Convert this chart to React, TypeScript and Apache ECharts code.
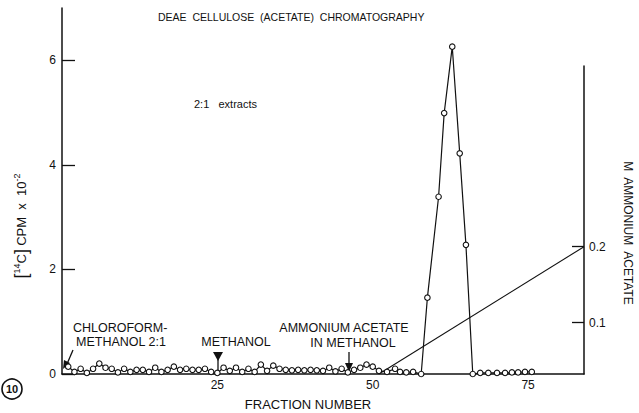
import React, { useEffect, useRef } from "react";
import * as echarts from "echarts";

// Fraction numbers and [14C] counts (CPM x 10^-2) for the DEAE cellulose run
const fractionNumbers = [
  1, 2, 3, 4, 5, 6, 7, 8, 9, 10,
  11, 12, 13, 14, 15, 16, 17, 18, 19, 20,
  21, 22, 23, 24, 25, 26, 27, 28, 29, 30,
  31, 32, 33, 34, 35, 36, 37, 38, 39, 40,
  41, 42, 43, 44, 45, 46, 47, 48, 49, 50,
  51, 52.3, 53.6, 54.4, 55.4, 56.5,
  57.8, 58.8, 60.6, 61.5, 62.8, 64.0, 65.0, 66.1,
  67.3, 68.6, 70.0, 71.3, 72.4, 73.4, 74.5, 75.6,
];
const cpmValues = [
  0.14, 0.04, 0.1, 0.02, 0.1, 0.2, 0.12, 0.1, 0.03, 0.1,
  0.04, 0.08, 0.08, 0.04, 0.12, 0.04, 0.08, 0.14, 0.08, 0.1,
  0.08, 0.08, 0.1, 0.04, 0.02, 0.12, 0.06, 0.12, 0.04, 0.1,
  0.04, 0.18, 0.06, 0.16, 0.1, 0.08, 0.07, 0.08, 0.07, 0.08,
  0.07, 0.06, 0.12, 0.05, 0.1, 0.03, 0.08, 0.12, 0.18, 0.14,
  0.06, 0.04, 0.1, 0.04, 0.03, 0.04,
  0.0, 1.46, 3.39, 4.99, 6.26, 4.22, 2.47, 0.0,
  0.02, 0.02, 0.02, 0.02, 0.03, 0.03, 0.04, 0.04,
];

// Ammonium acetate gradient (M), drawn against the right-hand axis
const gradientFractions = [51, 84];
const gradientMolarity = [0.0325, 0.2];

// Axis ticks
const fractionTicks = [25, 50, 75];
const cpmTicks = [0, 2, 4, 6];
const molarityTicks = [0.1, 0.2];

const FONT = "'Liberation Sans', Arial, Helvetica, sans-serif";
const INK = "#111";

export default function App() {
  const ref = useRef<HTMLDivElement>(null);

  useEffect(() => {
    if (!ref.current) return;
    const chart = echarts.init(ref.current, undefined, { renderer: "svg" });

    const countData = fractionNumbers.map((f, i) => [f, cpmValues[i]]);
    const gradientData = gradientFractions.map((f, i) => [f, gradientMolarity[i]]);

    const axisLine = { show: true, onZero: false, lineStyle: { color: INK, width: 1.5 } };
    const label = { color: INK, fontSize: 12, fontFamily: FONT };

    const text = (x: number, y: number, t: string, extra: any = {}) => ({
      type: "text",
      x,
      y,
      style: {
        text: t,
        fill: INK,
        font: `12.5px ${FONT}`,
        textAlign: "center",
        textVerticalAlign: "middle",
        ...extra,
      },
    });
    const seg = (x1: number, y1: number, x2: number, y2: number, w = 1.3) => ({
      type: "line",
      shape: { x1, y1, x2, y2 },
      style: { stroke: INK, lineWidth: w },
    });
    const tri = (points: number[][]) => ({
      type: "polygon",
      shape: { points },
      style: { fill: INK },
    });

    chart.setOption({
      animation: false,
      backgroundColor: "#fff",
      grid: [
        { left: 62, right: 55, top: 8, bottom: 39 },
        { left: 62, right: 55, top: 66, bottom: 39 },
      ],
      xAxis: [
        {
          gridIndex: 0,
          type: "value",
          min: 0,
          max: 84,
          axisLine,
          axisTick: { show: false },
          splitLine: { show: false },
          axisLabel: { ...label, margin: 5, customValues: fractionTicks },
        },
        { gridIndex: 1, type: "value", min: 0, max: 84, show: false },
      ],
      yAxis: [
        {
          gridIndex: 0,
          type: "value",
          min: 0,
          max: 7,
          axisLine,
          axisTick: {
            show: true,
            inside: true,
            length: 13,
            lineStyle: { color: INK, width: 1.3 },
            customValues: cpmTicks,
          },
          splitLine: { show: false },
          axisLabel: { ...label, margin: 6, customValues: cpmTicks },
        },
        {
          gridIndex: 1,
          type: "value",
          position: "right",
          min: 0.0325,
          max: 0.4378,
          axisLine,
          axisTick: {
            show: true,
            inside: true,
            length: 12,
            lineStyle: { color: INK, width: 1.3 },
            customValues: molarityTicks,
          },
          splitLine: { show: false },
          axisLabel: {
            ...label,
            margin: 5,
            customValues: molarityTicks,
            formatter: (v: number) => v.toFixed(1),
          },
        },
      ],
      series: [
        {
          type: "line",
          xAxisIndex: 0,
          yAxisIndex: 0,
          data: countData,
          symbol: "circle",
          symbolSize: 5.5,
          showSymbol: true,
          itemStyle: { color: "#fff", borderColor: INK, borderWidth: 1.1 },
          lineStyle: { color: INK, width: 1.2 },
          z: 3,
        },
        {
          type: "line",
          xAxisIndex: 1,
          yAxisIndex: 1,
          data: gradientData,
          symbol: "none",
          lineStyle: { color: INK, width: 1.1 },
          z: 2,
        },
      ],
      graphic: [
        text(158, 17, "DEAE  CELLULOSE  (ACETATE)  CHROMATOGRAPHY", {
          textAlign: "left",
          font: `10.5px ${FONT}`,
        }),
        text(194, 104, "2:1   extracts", { textAlign: "left", font: `11px ${FONT}` }),
        {
          type: "text",
          x: 21,
          y: 226,
          rotation: Math.PI / 2,
          style: {
            text: "{br|[}{sup|14}{n|C}{br|]} {n|CPM  x  10}{sup|-2}",
            fill: INK,
            textAlign: "center",
            textVerticalAlign: "middle",
            rich: {
              br: { fontSize: 18, fontFamily: FONT, fill: INK },
              n: { fontSize: 13, fontFamily: FONT, fill: INK },
              sup: { fontSize: 9, fontFamily: FONT, fill: INK, verticalAlign: "top" },
            },
          },
        },
        {
          type: "text",
          x: 628,
          y: 233,
          rotation: -Math.PI / 2,
          style: {
            text: "M  AMMONIUM  ACETATE",
            fill: INK,
            font: `12px ${FONT}`,
            textAlign: "center",
            textVerticalAlign: "middle",
          },
        },
        text(308, 404, "FRACTION NUMBER", { font: `13px ${FONT}` }),
        // Solvent change annotations
        text(73, 328, "CHLOROFORM-", { textAlign: "left" }),
        text(76, 342, "METHANOL 2:1", { textAlign: "left" }),
        seg(73, 350, 67, 364),
        tri([[63, 369], [64, 360], [70, 363]]),
        text(236, 342, "METHANOL"),
        tri([[213, 352], [223, 352], [218, 361]]),
        seg(218, 352, 218, 371),
        text(344, 328, "AMMONIUM ACETATE"),
        text(353, 343, "IN METHANOL"),
        seg(349, 352, 349, 366),
        tri([[345, 363], [353, 363], [349, 372]]),
        // Figure number
        {
          type: "circle",
          shape: { cx: 12, cy: 389, r: 10 },
          style: { fill: "#fff", stroke: INK, lineWidth: 1.6 },
        },
        text(12, 389, "10", { font: `bold 11px ${FONT}` }),
      ],
    });

    return () => chart.dispose();
  }, []);

  return (
    <div
      ref={ref}
      style={{ position: "fixed", left: 0, top: 0, width: 639, height: 413, background: "#fff" }}
    />
  );
}
